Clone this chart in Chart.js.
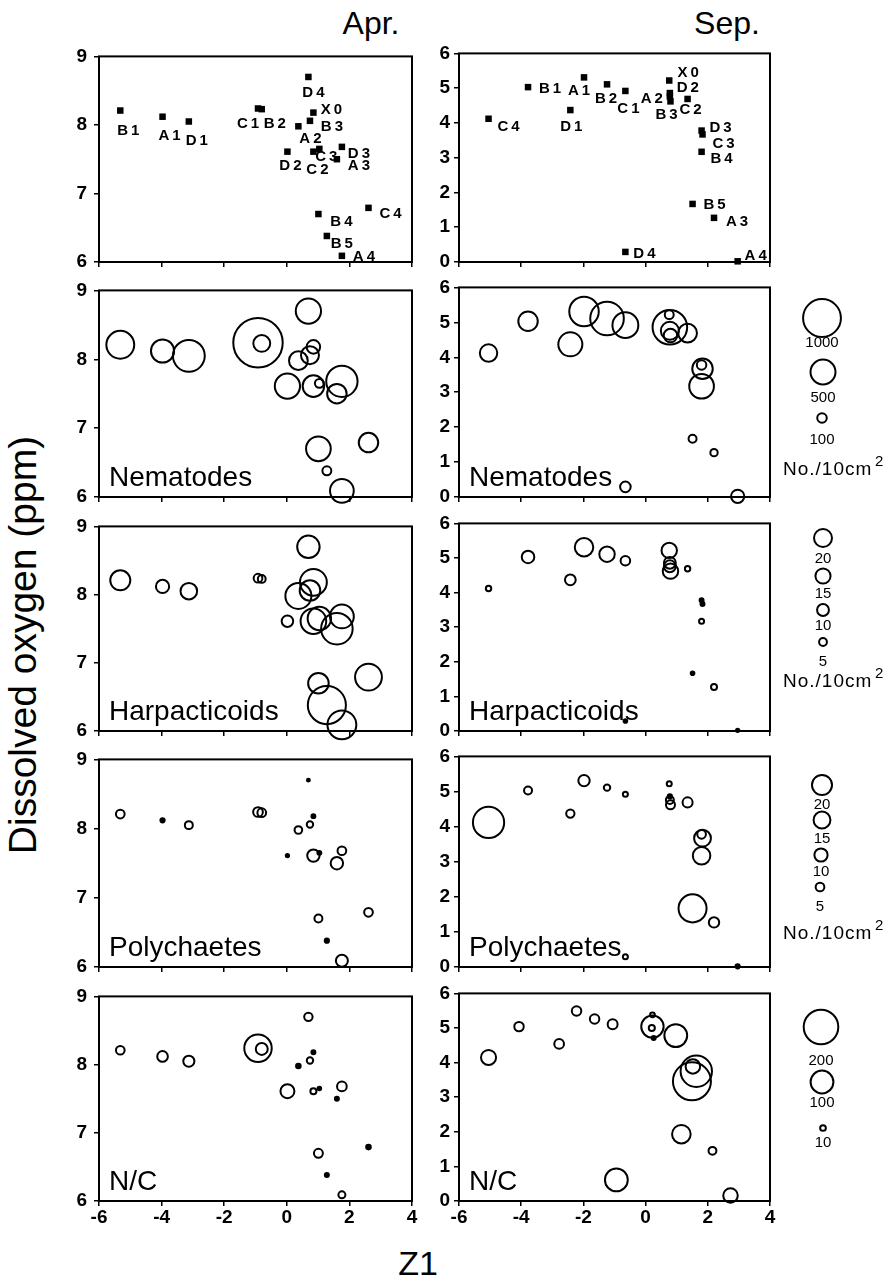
<!DOCTYPE html>
<html>
<head>
<meta charset="utf-8">
<script src="https://cdn.jsdelivr.net/npm/chart.js@4.4.0/dist/chart.umd.min.js"></script>
<style>
body { margin: 0; background: #fff; width: 886px; height: 1281px; position: relative; overflow: hidden; font-family: "Liberation Sans", Arial, sans-serif; }
canvas { position: absolute; }
.t { position: absolute; color: #000; white-space: nowrap; transform: translate(-50%, -50%); }
</style>
</head>
<body>
<div class="t" style="left:371px; top:23px; font-size:32px;">Apr.</div>
<div class="t" style="left:727px; top:23px; font-size:32px;">Sep.</div>
<div class="t" style="left:23px; top:645px; font-size:39px; transform: translate(-50%, -50%) rotate(-90deg);">Dissolved oxygen (ppm)</div>
<div class="t" style="left:418px; top:1263px; font-size:34px;">Z1</div>

<script>
// stations, same order in every array below
var stations = ['B1','A1','D1','C1','B2','A2','B3','X0','D2','C2','C3','D3','A3','D4','B4','C4','B5','A4'];

// station positions (Z1, dissolved oxygen ppm)
var aprZ1 = [-5.32,-3.97,-3.13,-0.92,-0.80,0.37,0.74,0.85,0.02,0.85,1.04,1.76,1.60,0.69,1.01,2.61,1.28,1.76];
var aprDO = [8.21,8.12,8.05,8.24,8.23,7.98,8.06,8.18,7.61,7.61,7.65,7.68,7.50,8.70,6.70,6.79,6.38,6.09];
var sepZ1 = [-3.78,-1.98,-2.42,-0.65,-1.24,0.78,0.80,0.76,0.78,1.35,1.83,1.80,2.20,-0.65,1.80,-5.05,1.51,2.96];
var sepDO = [5.03,5.31,4.37,4.92,5.11,4.76,4.62,5.22,4.86,4.69,3.67,3.78,1.27,0.29,3.17,4.12,1.67,0.02];
// the Sep N/C panel is plotted a bit differently in the figure
var sepNcZ1 = [-4.07,-2.22,-2.78,-1.06,-1.64,0.20,0.26,0.22,0.22,0.97,1.63,1.52,2.15,-0.94,1.49,-5.05,1.15,2.73];
var sepNcDO = [5.04,5.49,4.54,5.11,5.26,5.00,4.71,5.38,5.04,4.78,3.75,3.89,1.45,0.61,3.46,4.15,1.93,0.16];

// abundances, No./10cm2 (N/C = ratio)
var nemaApr = [600,440,750,1560,260,310,290,180,510,390,90,730,330,510,490,330,90,460];
var nemaSep = [330,660,470,530,820,290,180,90,860,310,360,100,65,120,490,275,75,175];
var harpApr = [24,12,17.5,6,5,37,25,39,9.5,36,31,32,51,29,25,39,70,44];
var harpSep = [11,21,8.5,7,15.5,10,15.5,15.5,10,2.7,1.6,1.6,3.2,1.4,2.4,2.7,1.4,1.2];
var polyApr = [5,1.5,4.3,6,5,4,3,1.3,1,9,1.3,5,9,0.8,4.3,5,1.5,8.5];
var polySep = [4.3,7.8,4.6,2,3,4.3,5.3,2,1.5,6.3,15,5,6.7,2,16,42,35,1.5];
var ncApr = [20,28,30,136,34,7,12,5.5,44,11,4.6,24,5.5,19,21,7,5.5,14];
var ncSep = [23,23,24,25,23,11,5.5,7.5,97,100,170,47,17,100,234,50,71,47];

// legend sizes
var nemaLegend = [1000, 500, 100];
var harpLegend = [20, 15, 10, 5];
var polyLegend = [20, 15, 10, 5];
var ncLegend = [200, 100, 10];

// tick labels
var z1Ticks = [-6, -4, -2, 0, 2, 4];
var aprTicks = [6, 7, 8, 9];
var sepTicks = [0, 1, 2, 3, 4, 5, 6];

// ---- layout ----
var colL = [99, 459], colR = [412, 770];
var rowT = [52, 286, 522, 755, 992], rowB = [262, 497, 731, 967, 1201];
var yW = 60, padT = 14;
var FONT = '"Liberation Sans", Arial, sans-serif';

var sizeK = { nema: 0.3, harp: 1.49, poly: 1.66, nc: 0.72 };
function rad(n, k) { return k * Math.pow(n, 0.6); }

var aprLabelOff = {
  B1:[8,20], A1:[7,19], D1:[8,19], C1:[-10,15], B2:[13,15], A2:[12,13], B3:[22,6], X0:[18,-3], D2:[3,14],
  C2:[4,18], C3:[7,8], D3:[17,7], A3:[22,7], D4:[5,16], B4:[23,8], C4:[22,6], B5:[15,8], A4:[22,1]
};
var sepLabelOff = {
  C4:[20,8], B1:[22,2], A1:[-5,13], D1:[1,17], B2:[-1,15], C1:[3,18], X0:[19,-8], D2:[18,-5], A2:[-18,2],
  B3:[-4,13], C2:[3,11], D3:[19,-3], C3:[21,9], B4:[20,7], B5:[22,1], A3:[23,4], D4:[19,2], A4:[18,-5]
};

// legend layout, page coords
var legendLayout = {
  1: { vals: nemaLegend, k: sizeK.nema, cx: [822, 823, 822], cy: [318, 372, 418], ly: [343, 398, 440], unit: 470 },
  2: { vals: harpLegend, k: sizeK.harp, cx: [823, 823, 823, 823], cy: [538, 576, 610, 642], ly: [559, 594, 626, 662], unit: 682 },
  3: { vals: polyLegend, k: sizeK.poly, cx: [822, 822, 821, 820], cy: [785, 820, 855, 887], ly: [805, 839, 872, 907], unit: 934 },
  4: { vals: ncLegend, k: sizeK.nc, cx: [821, 822, 823], cy: [1027, 1082, 1128], ly: [1061, 1103, 1143], unit: 0 }
};

var framePlugin = {
  id: 'frame',
  afterDatasetsDraw: function(chart, args, o) {
    var a = chart.chartArea, ctx = chart.ctx;
    ctx.save();
    ctx.strokeStyle = '#000';
    ctx.lineWidth = 2;
    ctx.strokeRect(a.left, a.top, a.right - a.left, a.bottom - a.top);
    ctx.fillStyle = '#000';
    if (o.title) {
      ctx.font = '28px ' + FONT;
      ctx.textAlign = 'left';
      ctx.textBaseline = 'alphabetic';
      ctx.fillText(o.title, a.left + 10, a.bottom - 11);
    }
    if (o.names) {
      var meta = chart.getDatasetMeta(0);
      ctx.font = 'bold 15px ' + FONT;
      ctx.letterSpacing = '3px';
      ctx.textAlign = 'center';
      ctx.textBaseline = 'middle';
      meta.data.forEach(function(pt, i) {
        var off = o.offsets[o.names[i]];
        ctx.fillText(o.names[i], pt.x + off[0] + 1.5, pt.y + off[1]);
      });
      ctx.letterSpacing = '0px';
    }
    if (o.legend) {
      var L = o.legend, ox = o.ox, oy = o.oy;
      ctx.lineWidth = 2;
      ctx.textAlign = 'center';
      ctx.textBaseline = 'middle';
      ctx.font = '15px ' + FONT;
      for (var i = 0; i < L.vals.length; i++) {
        ctx.beginPath();
        ctx.arc(L.cx[i] - ox, L.cy[i] - oy, rad(L.vals[i], L.k), 0, Math.PI * 2);
        ctx.stroke();
        ctx.fillText(String(L.vals[i]), L.cx[i] - ox, L.ly[i] - oy);
      }
      if (L.unit) {
        ctx.font = '19px ' + FONT;
        ctx.letterSpacing = '1px';
        ctx.textAlign = 'left';
        ctx.fillText('No./10cm', 783 - ox, L.unit - oy);
        ctx.letterSpacing = '0px';
        ctx.font = '15px ' + FONT;
        ctx.fillText('2', 875 - ox, L.unit - 8 - oy);
      }
    }
    ctx.restore();
  }
};

function fixTicks(arr) {
  return function(scale) { scale.ticks = arr.map(function(v) { return { value: v }; }); };
}

function makePanel(row, col, type, points, yTicks, pluginOpts) {
  var L = colL[col], R = colR[col], T = rowT[row], B = rowB[row];
  var xH = row === 4 ? 30 : 8;
  var padB = row === 4 ? 4 : 14;
  var extraR = col === 0 ? 20 : 886 - R;
  var cv = document.createElement('canvas');
  var w = yW + (R - L) + extraR, h = padT + (B - T) + xH + padB;
  cv.width = w; cv.height = h;
  cv.style.left = (L - yW) + 'px';
  cv.style.top = (T - padT) + 'px';
  cv.style.width = w + 'px'; cv.style.height = h + 'px';
  document.body.appendChild(cv);
  pluginOpts.ox = L - yW;
  pluginOpts.oy = T - padT;

  var ds;
  if (type === 'scatter') {
    ds = { data: points, pointStyle: 'rect', pointRadius: 4.6, backgroundColor: '#000', borderWidth: 0, clip: false };
  } else {
    ds = {
      data: points, borderColor: '#000', borderWidth: 2, clip: false,
      backgroundColor: function(c) { return c.raw && c.raw.r < 2.35 ? '#000' : 'rgba(0,0,0,0)'; }
    };
  }
  var tickFont = { family: FONT, size: 19, weight: 'bold' };
  new Chart(cv, {
    type: type,
    data: { datasets: [ds] },
    options: {
      responsive: false, animation: false, devicePixelRatio: 1,
      layout: { autoPadding: false, padding: { left: 0, top: padT, right: extraR, bottom: padB } },
      plugins: { legend: { display: false }, tooltip: { enabled: false }, frame: pluginOpts },
      scales: {
        x: {
          type: 'linear', min: z1Ticks[0], max: z1Ticks[z1Ticks.length - 1],
          afterBuildTicks: fixTicks(z1Ticks),
          afterFit: function(s) { s.height = xH; },
          ticks: { display: row === 4, font: tickFont, color: '#000', padding: 0 },
          grid: { display: true, drawOnChartArea: false, drawTicks: true, tickLength: 5, color: '#000', lineWidth: 1.5 },
          border: { display: false }
        },
        y: {
          type: 'linear', min: yTicks[0], max: yTicks[yTicks.length - 1],
          afterBuildTicks: fixTicks(yTicks),
          afterFit: function(s) { s.width = yW; },
          ticks: { font: tickFont, color: '#000', padding: col === 0 ? 7 : 4 },
          grid: { display: true, drawOnChartArea: false, drawTicks: true, tickLength: 5, color: '#000', lineWidth: 1.5 },
          border: { display: false }
        }
      }
    },
    plugins: [framePlugin]
  });
}

function markers(z, d) {
  return stations.map(function(s, i) { return { x: z[i], y: d[i] }; });
}
function bubbles(z, d, vals, k) {
  return stations.map(function(s, i) { return { x: z[i], y: d[i], r: rad(vals[i], k) }; });
}

// row 0: station maps
makePanel(0, 0, 'scatter', markers(aprZ1, aprDO), aprTicks, { names: stations, offsets: aprLabelOff });
makePanel(0, 1, 'scatter', markers(sepZ1, sepDO), sepTicks, { names: stations, offsets: sepLabelOff });

// rows 1-4: abundance bubbles
makePanel(1, 0, 'bubble', bubbles(aprZ1, aprDO, nemaApr, sizeK.nema), aprTicks, { title: 'Nematodes' });
makePanel(1, 1, 'bubble', bubbles(sepZ1, sepDO, nemaSep, sizeK.nema), sepTicks, { title: 'Nematodes', legend: legendLayout[1] });
makePanel(2, 0, 'bubble', bubbles(aprZ1, aprDO, harpApr, sizeK.harp), aprTicks, { title: 'Harpacticoids' });
makePanel(2, 1, 'bubble', bubbles(sepZ1, sepDO, harpSep, sizeK.harp), sepTicks, { title: 'Harpacticoids', legend: legendLayout[2] });
makePanel(3, 0, 'bubble', bubbles(aprZ1, aprDO, polyApr, sizeK.poly), aprTicks, { title: 'Polychaetes' });
makePanel(3, 1, 'bubble', bubbles(sepZ1, sepDO, polySep, sizeK.poly), sepTicks, { title: 'Polychaetes', legend: legendLayout[3] });
makePanel(4, 0, 'bubble', bubbles(aprZ1, aprDO, ncApr, sizeK.nc), aprTicks, { title: 'N/C' });
makePanel(4, 1, 'bubble', bubbles(sepNcZ1, sepNcDO, ncSep, sizeK.nc), sepTicks, { title: 'N/C', legend: legendLayout[4] });
</script>
</body>
</html>
